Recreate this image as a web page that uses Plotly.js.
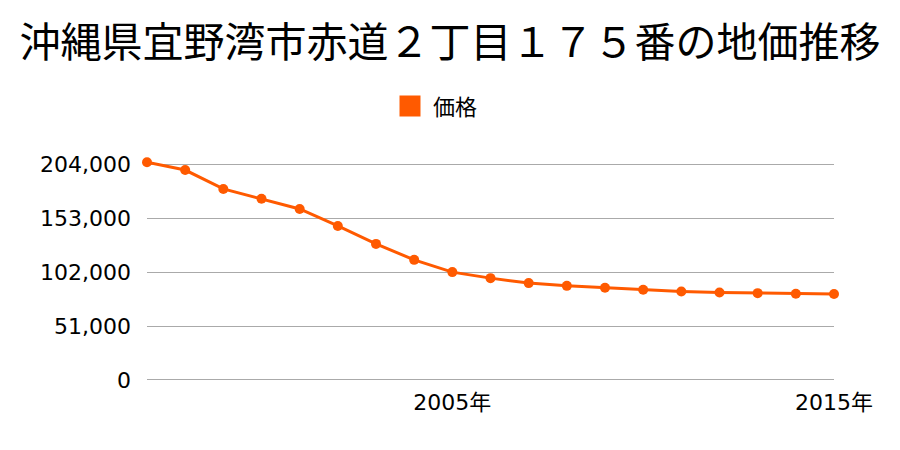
<!DOCTYPE html>
<html>
<head>
<meta charset="utf-8">
<script src="https://cdn.plot.ly/plotly-3.0.1.min.js"></script>
<style>html,body{margin:0;padding:0;background:#fff;}#chart{width:900px;height:450px;}</style>
</head>
<body>
<div id="chart"></div>
<script>
const years = [1997,1998,1999,2000,2001,2002,2003,2004,2005,2006,2007,2008,2009,2010,2011,2012,2013,2014,2015];
const prices = [206000,198600,180700,171500,161800,145700,128700,113600,102000,96300,91600,89000,87200,85300,83700,82700,82100,81500,81300];
const yTicks = [0,51000,102000,153000,204000];
const yTickText = ["0","51,000","102,000","153,000","204,000"];
const xTicks = [2005,2015];
const xTickText = ["2005年","2015年"];
const seriesName = "価格";
const titleText = "沖縄県宜野湾市赤道２丁目１７５番の地価推移";

const cjk = "'Noto Sans CJK JP', sans-serif";
const num = "'DejaVu Sans', 'Noto Sans CJK JP', sans-serif";
const color = '#ff5a00';
Plotly.newPlot('chart', [{
  x: years, y: prices, name: seriesName, type: 'scatter', mode: 'lines+markers',
  line: {color: color, width: 3},
  marker: {color: color, size: 10},
  cliponaxis: false, showlegend: false
}, {
  x: [null], y: [null], name: seriesName, type: 'scatter', mode: 'markers',
  marker: {color: color, size: 16, symbol: 'square', line: {color: color, width: 5}},
  showlegend: true, hoverinfo: 'skip'
}], {
  width: 900, height: 450,
  margin: {l: 147, r: 66, t: 158, b: 68},
  paper_bgcolor: '#fff', plot_bgcolor: '#fff',
  font: {family: num, color: '#000', size: 22},
  title: {text: titleText, font: {family: cjk, size: 41, color: '#000'}, x: 0.5, xanchor: 'center', xref: 'container', y: 0.905, yanchor: 'middle'},
  showlegend: true,
  legend: {orientation: 'h', xref: 'container', yref: 'container', x: 0.43, xanchor: 'left', y: 0.764, yanchor: 'middle', itemwidth: 36, font: {family: cjk, size: 22, color: '#000'}},
  xaxis: {range: [1997, 2015], tickvals: xTicks, ticktext: xTickText, showgrid: false, zeroline: false, showline: false, ticks: '', ticklabelstandoff: 5, tickfont: {family: num, size: 22}},
  yaxis: {range: [-2000, 210000], tickvals: yTicks, ticktext: yTickText, showgrid: true, gridcolor: '#aaaaaa', gridwidth: 1, zeroline: false, showline: false, ticks: '', ticklabelstandoff: 15, tickfont: {family: num, size: 22}}
}, {displayModeBar: false, staticPlot: true});
</script>
</body>
</html>
